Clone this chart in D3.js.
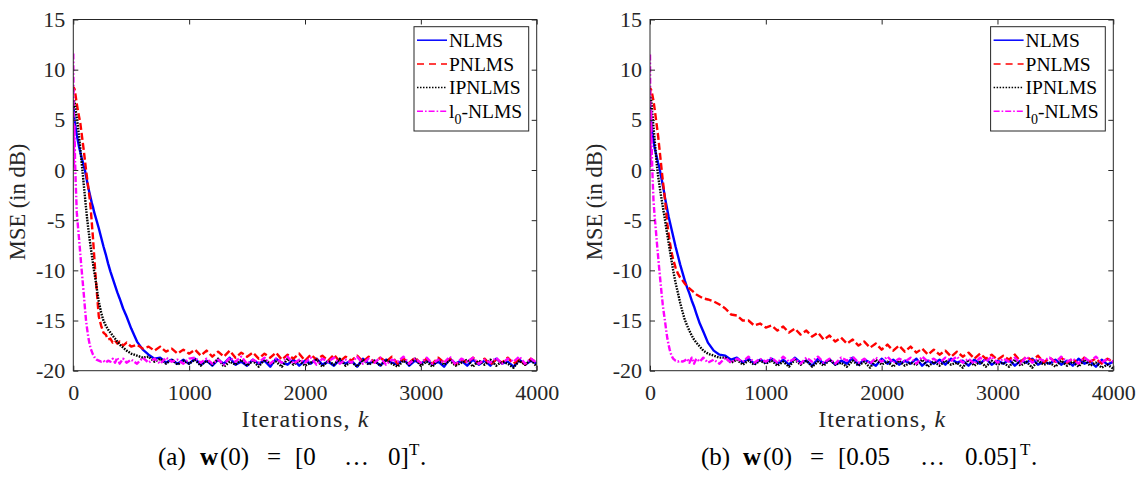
<!DOCTYPE html>
<html><head><meta charset="utf-8">
<script src="https://cdn.jsdelivr.net/npm/d3@7"></script>
<style>
html,body{margin:0;padding:0;background:#fff;}
svg{display:block;}
</style></head><body>
<svg id="chart" width="1141" height="478"></svg>
<script>
// ---------------- data ----------------
const iters = [0,5,10,15,20,30,40,50,60,70,80,90,100,110,120,130,140,150,160,170,180,190,200,220,240,260,280,300,320,340,360,380,400,430,460,500,550,600,650,700,750,800,850,900,950,1000,1050,1100,1150,1200,1250,1300,1350,1400,1450,1500,1550,1600,1650,1700,1750,1800,1850,1900,1950,2000,2050,2100,2150,2200,2250,2300,2350,2400,2450,2500,2550,2600,2650,2700,2750,2800,2850,2900,2950,3000,3050,3100,3150,3200,3250,3300,3350,3400,3450,3500,3550,3600,3650,3700,3750,3800,3850,3900,3950,4000];

const seriesNames = ["NLMS", "PNLMS", "IPNLMS", "l0-NLMS"];
const xTickValues = [0, 1000, 2000, 3000, 4000];
const yTickValues = [-20, -15, -10, -5, 0, 5, 10, 15];
const xLabel = "Iterations, ";
const xLabelVar = "k";
const yLabel = "MSE (in dB)";
const captionA = ["(a)", "w", "(0)", "=", "[0", "…", "0]", "T", "."];
const captionB = ["(b)", "w", "(0)", "=", "[0.05", "…", "0.05]", "T", "."];

// panel (a): w(0) = [0 ... 0]^T
const aNLMS = [6.5,5.8,5.0,4.6,4.2,3.5,2.9,2.3,1.8,1.3,0.9,0.4,0.0,-0.6,-1.2,-1.8,-2.3,-2.8,-3.3,-3.7,-4.2,-4.6,-5.0,-5.8,-6.7,-7.6,-8.4,-9.3,-10.1,-10.8,-11.5,-12.2,-12.8,-13.8,-14.6,-15.8,-17.1,-17.9,-18.4,-18.8,-18.7,-19.2,-18.9,-19.3,-18.9,-19.3,
 -18.8,-19.4,-19.0,-19.5,-18.9,-19.3,-18.7,-19.4,-19.1,-19.5,-18.9,-19.3,-19.0,-19.6,-18.8,-19.2,-19.4,-18.9,-19.5,-19.0,-19.3,-18.8,-19.4,-19.1,-19.5,-18.9,-19.3,-19.0,-19.6,-18.8,-19.3,-19.0,-19.5,-18.9,-19.2,-19.4,-18.8,-19.5,-19.0,-19.3,-18.9,-19.4,-19.1,-19.6,-18.8,-19.3,-19.0,-19.5,-18.9,-19.4,-19.0,-19.5,-18.8,-19.3,-19.1,-19.6,-18.9,-19.4,-19.0,-19.3];
const aPNLMS = [7.8,8.2,8.1,7.8,7.4,6.6,5.9,5.3,4.7,3.8,2.9,2.0,1.0,0.0,-0.9,-1.8,-2.7,-3.8,-5.3,-6.8,-8.5,-10.2,-11.7,-14.6,-15.5,-16.2,-16.4,-16.9,-16.8,-17.2,-17.0,-17.3,-17.1,-17.5,-17.2,-17.6,-17.4,-17.8,-17.6,-18.0,-17.6,-18.1,-17.8,-18.3,-17.9,-18.3,
 -17.9,-18.5,-18.0,-18.6,-18.1,-18.6,-18.0,-18.7,-18.2,-18.6,-18.2,-18.8,-18.3,-18.7,-18.2,-18.9,-18.4,-18.8,-18.3,-19.0,-18.4,-18.9,-18.5,-19.0,-18.4,-19.1,-18.6,-19.0,-18.5,-19.1,-18.6,-19.2,-18.7,-19.1,-18.6,-19.3,-18.8,-19.2,-18.7,-19.3,-18.8,-19.3,-18.7,-19.2,-18.8,-19.4,-18.9,-19.2,-18.7,-19.3,-18.8,-19.4,-18.9,-19.2,-18.7,-19.3,-18.9,-19.4,-18.8,-19.2];
const aIPNLMS = [6.2,7.0,6.8,6.5,6.0,5.2,4.3,3.3,2.2,1.0,-0.2,-1.4,-2.6,-3.8,-4.9,-5.9,-6.8,-7.7,-8.5,-9.3,-10.1,-10.8,-11.6,-13.1,-14.2,-15.0,-15.5,-15.9,-16.2,-16.5,-16.8,-17.1,-17.4,-17.7,-18.0,-18.3,-18.5,-18.7,-18.6,-19.1,-18.8,-19.3,-18.9,-19.4,-19.0,-19.3,
 -18.9,-19.5,-19.0,-19.4,-18.8,-19.6,-19.1,-19.4,-18.9,-19.5,-19.0,-19.6,-18.9,-19.3,-19.1,-19.6,-18.8,-19.4,-19.0,-19.5,-19.2,-18.9,-19.6,-19.0,-19.4,-18.8,-19.5,-19.1,-19.6,-18.9,-19.4,-19.0,-19.5,-18.9,-19.3,-19.6,-19.0,-19.4,-18.8,-19.5,-19.1,-19.6,-18.9,-19.4,-19.0,-19.5,-19.2,-18.9,-19.6,-19.0,-19.4,-18.9,-19.5,-19.1,-19.3,-19.7,-19.0,-19.4,-18.9,-19.6];
const aL0 = [11.6,0.2,4.5,1.0,-1.0,-4.2,-5.6,-6.9,-8.3,-9.7,-11.0,-12.3,-13.7,-15.0,-15.9,-16.7,-17.3,-17.8,-18.1,-18.4,-18.6,-18.8,-18.9,-19.0,-19.1,-19.0,-19.2,-19.0,-19.1,-18.8,-19.2,-18.7,-19.3,-18.8,-19.2,-18.9,-19.3,-18.7,-19.2,-18.8,-19.3,-18.7,-19.1,-18.9,-19.3,-18.8,
 -18.7,-19.2,-18.8,-19.3,-18.9,-19.4,-18.7,-19.1,-18.6,-19.3,-18.9,-19.2,-18.7,-19.3,-18.8,-19.2,-18.6,-19.3,-18.9,-19.2,-18.7,-19.4,-18.8,-19.1,-18.7,-19.3,-18.9,-19.2,-18.6,-19.3,-18.8,-19.2,-18.7,-19.4,-18.9,-19.1,-18.6,-19.3,-18.8,-19.2,-18.7,-19.3,-18.9,-19.2,-18.6,-19.4,-18.8,-19.1,-18.7,-19.3,-18.9,-19.2,-18.7,-19.3,-18.8,-19.1,-18.6,-19.3,-18.8,-19.2];

// panel (b): w(0) = [0.05 ... 0.05]^T
const bNLMS = [6.5,5.5,4.8,4.2,3.7,2.9,2.2,1.7,1.2,0.7,0.3,-0.3,-0.9,-1.5,-2.1,-2.8,-3.4,-4.0,-4.6,-5.1,-5.6,-6.1,-6.6,-7.6,-8.5,-9.4,-10.2,-11.0,-11.7,-12.3,-13.0,-13.6,-14.3,-15.3,-16.1,-17.2,-18.0,-18.4,-18.5,-18.9,-18.7,-19.2,-18.8,-19.3,-18.9,-19.2,
 -18.8,-19.3,-18.9,-19.4,-18.7,-19.2,-19.0,-19.5,-18.8,-19.3,-18.9,-19.4,-19.0,-19.3,-18.7,-19.4,-18.9,-19.2,-19.5,-18.8,-19.3,-18.9,-19.4,-19.0,-19.3,-18.8,-19.5,-19.0,-19.3,-18.9,-19.4,-18.8,-19.2,-19.0,-19.5,-18.9,-19.3,-18.8,-19.4,-19.0,-19.3,-18.9,-19.5,-19.0,-19.2,-18.8,-19.4,-19.1,-19.3,-18.9,-19.4,-19.0,-19.5,-18.8,-19.3,-19.1,-19.6,-18.9,-19.4,-19.1];
const bPNLMS = [7.6,8.1,8.0,7.8,7.5,6.9,6.1,5.2,4.3,3.4,2.3,1.2,0.1,-1.0,-2.0,-3.0,-4.2,-5.4,-6.3,-7.1,-7.8,-8.4,-8.9,-9.7,-10.3,-10.7,-11.0,-11.3,-11.6,-11.8,-12.0,-12.2,-12.4,-12.6,-12.8,-12.9,-13.1,-13.4,-13.8,-14.4,-14.5,-15.0,-15.0,-15.5,-15.3,-15.7,
 -15.5,-16.0,-15.6,-16.2,-15.8,-16.4,-16.0,-16.6,-16.2,-16.9,-16.5,-17.1,-16.7,-17.3,-16.9,-17.5,-17.1,-17.7,-17.3,-17.9,-17.4,-18.0,-17.5,-18.1,-17.6,-18.2,-17.8,-18.4,-17.9,-18.4,-18.0,-18.6,-18.1,-18.6,-18.2,-18.8,-18.3,-18.8,-18.4,-18.9,-18.5,-18.9,-18.4,-19.1,-18.6,-19.0,-18.5,-19.2,-18.7,-19.1,-18.7,-19.2,-18.8,-19.3,-18.7,-19.1,-18.8,-19.3,-18.8,-19.2];
const bIPNLMS = [6.0,7.2,6.9,6.3,5.6,4.3,3.0,1.7,0.4,-0.6,-1.4,-2.2,-2.9,-3.6,-4.3,-5.0,-5.8,-6.5,-7.2,-7.9,-8.6,-9.3,-10.0,-11.2,-12.2,-13.2,-14.1,-14.9,-15.5,-16.0,-16.5,-16.9,-17.2,-17.6,-18.0,-18.3,-18.5,-18.7,-18.7,-19.2,-18.9,-19.4,-19.0,-19.4,-19.0,-19.3,
 -19.0,-19.5,-19.1,-19.6,-18.9,-19.4,-19.0,-19.6,-19.1,-19.5,-18.9,-19.4,-19.2,-19.6,-19.0,-19.5,-19.1,-19.7,-18.9,-19.4,-19.1,-19.6,-19.0,-19.5,-19.2,-19.4,-18.9,-19.6,-19.1,-19.5,-19.0,-19.4,-19.2,-19.7,-18.9,-19.5,-19.1,-19.6,-19.0,-19.4,-19.2,-19.6,-18.9,-19.5,-19.1,-19.7,-19.0,-19.4,-19.2,-19.6,-19.0,-19.5,-19.1,-19.6,-18.9,-19.5,-19.2,-19.7,-19.4,-19.8];
const bL0 = [11.5,0.3,6.0,2.0,0.0,-3.0,-4.6,-5.9,-7.3,-8.6,-9.9,-11.1,-12.3,-13.4,-14.3,-15.1,-16.0,-16.8,-17.4,-17.9,-18.3,-18.6,-18.8,-19.0,-19.1,-19.0,-19.1,-19.0,-18.8,-19.2,-18.7,-19.3,-18.8,-19.1,-18.7,-19.2,-18.9,-19.3,-18.7,-19.2,-18.8,-19.1,-18.6,-19.2,-18.8,-19.1,
 -18.7,-19.2,-18.6,-19.1,-18.8,-19.3,-18.7,-19.1,-18.6,-19.2,-18.8,-19.3,-18.7,-19.0,-18.6,-19.2,-18.8,-19.3,-18.7,-19.1,-18.6,-19.2,-18.8,-19.1,-18.7,-19.3,-18.6,-19.1,-18.8,-19.2,-18.7,-19.0,-18.6,-19.2,-18.8,-19.3,-18.7,-19.1,-18.6,-19.2,-18.8,-19.1,-18.7,-19.3,-18.6,-19.2,-18.8,-19.0,-18.7,-19.2,-18.6,-19.1,-18.8,-19.3,-18.7,-19.1,-18.6,-19.2,-18.8,-19.1];

// ---------------- styles / layout ----------------
const FONT = "Liberation Serif";
const lineStyles = [
  {color:"#0000ff", dash:null,          legendDash:null},
  {color:"#ff0000", dash:"7,3",         legendDash:"7,5"},
  {color:"#000000", dash:"1.6,1.2",     legendDash:"1.5,1.5"},
  {color:"#ff00ff", dash:"6,2,1.6,2",   legendDash:"6,2,1.6,2"}
];
const axisColor = "#262626";
const plotTop = 19.5, plotBottom = 370.7;

// caption token offsets (px from caption start)
const capLayoutA = [3, 45, 65, 112, 140, 189, 233, 254, 265];
const capLayoutB = [3, 45, 65, 112, 140, 222, 267, 322, 333];

const panels = [
  {series:[aNLMS,aPNLMS,aIPNLMS,aL0], left:73.3, right:536.7, ylabX:25,
   caption:captionA, capLayout:capLayoutA, capX:155},
  {series:[bNLMS,bPNLMS,bIPNLMS,bL0], left:650, right:1113.3, ylabX:602,
   caption:captionB, capLayout:capLayoutB, capX:698}
];

const svg = d3.select("#chart");

panels.forEach((p, pi) => {
  const x = d3.scaleLinear().domain([0, 4000]).range([p.left, p.right]);
  const y = d3.scaleLinear().domain([-20, 15]).range([plotBottom, plotTop]);
  const g = svg.append("g");

  const clipId = "clip" + pi;
  svg.append("clipPath").attr("id", clipId).append("rect")
    .attr("x", p.left).attr("y", plotTop)
    .attr("width", p.right - p.left).attr("height", plotBottom - plotTop);

  // lines
  const line = d3.line().x((d, i) => x(iters[i])).y(d => y(d));
  const lg = g.append("g").attr("clip-path", `url(#${clipId})`);
  p.series.forEach((s, si) => {
    const st = lineStyles[si];
    lg.append("path").datum(s)
      .attr("d", line)
      .attr("fill", "none")
      .attr("stroke", st.color)
      .attr("stroke-width", 2.4)
      .attr("stroke-linejoin", "round")
      .attr("stroke-dasharray", st.dash);
  });

  // axes
  const fmt = d => String(d);
  const styleAxis = sel => {
    sel.attr("font-family", FONT).attr("font-size", 22);
    sel.select(".domain").remove();
    sel.selectAll(".tick line").attr("stroke", axisColor);
    sel.selectAll(".tick text").attr("fill", axisColor)
      .style("font-family", FONT)
      .style("font-size", "22px");
  };
  g.append("g").attr("transform", `translate(0,${plotBottom})`)
    .call(d3.axisBottom(x).tickValues(xTickValues).tickFormat(fmt).tickSizeInner(-5).tickSizeOuter(0).tickPadding(14))
    .call(styleAxis);
  g.append("g").attr("transform", `translate(0,${plotTop})`)
    .call(d3.axisTop(x).tickValues(xTickValues).tickFormat("").tickSizeInner(-5).tickSizeOuter(0))
    .call(styleAxis);
  g.append("g").attr("transform", `translate(${p.left},0)`)
    .call(d3.axisLeft(y).tickValues(yTickValues).tickFormat(fmt).tickSizeInner(-5).tickSizeOuter(0).tickPadding(8))
    .call(styleAxis);
  g.append("g").attr("transform", `translate(${p.right},0)`)
    .call(d3.axisRight(y).tickValues(yTickValues).tickFormat("").tickSizeInner(-5).tickSizeOuter(0))
    .call(styleAxis);

  // box
  g.append("rect").attr("x", p.left).attr("y", plotTop)
    .attr("width", p.right - p.left).attr("height", plotBottom - plotTop)
    .attr("fill", "none").attr("stroke", axisColor).attr("stroke-width", 1);

  // y label
  g.append("text")
    .attr("transform", `translate(${p.ylabX},202) rotate(-90)`)
    .attr("text-anchor", "middle")
    .attr("fill", axisColor)
    .style("font-family", FONT)
    .style("font-size", "22.5px")
    .text(yLabel);

  // x label
  const xl = g.append("text")
    .attr("x", (p.left + p.right) / 2).attr("y", 427)
    .attr("text-anchor", "middle")
    .attr("fill", axisColor)
    .style("font-family", FONT)
    .style("font-size", "24px")
    .attr("textLength", 127).attr("lengthAdjust", "spacing");
  xl.append("tspan").text(xLabel);
  xl.append("tspan").style("font-style", "italic").text(xLabelVar);

  // legend
  const lgW = 114.7, lgH = 104.3;
  const lgX = p.right - 8 - lgW, lgY = 26.7;
  const leg = g.append("g");
  leg.append("rect").attr("x", lgX).attr("y", lgY).attr("width", lgW).attr("height", lgH)
    .attr("fill", "#fff").attr("stroke", axisColor).attr("stroke-width", 1);
  seriesNames.forEach((name, si) => {
    const cy = lgY + 13.5 + si * 23.7;
    const st = lineStyles[si];
    leg.append("line").attr("x1", lgX + 3).attr("x2", lgX + 33)
      .attr("y1", cy).attr("y2", cy)
      .attr("stroke", st.color).attr("stroke-width", 1.5)
      .attr("stroke-dasharray", st.legendDash);
    const t = leg.append("text").attr("x", lgX + 35).attr("y", cy + 6.8)
      .style("font-family", FONT)
      .style("font-size", "19.5px").attr("fill", "#000");
    if (name.startsWith("l0")) {
      t.append("tspan").text("l");
      t.append("tspan").attr("dy", 6).style("font-size", "14px").text("0");
      t.append("tspan").attr("dy", -6).text(name.slice(2));
    } else {
      t.text(name);
    }
  });

  // caption
  const capY = 465;
  p.caption.forEach((tok, ti) => {
    const isSup = ti === 7, isBold = ti === 1;
    g.append("text")
      .attr("x", p.capX + p.capLayout[ti])
      .attr("y", isSup ? capY - 10 : capY)
      .attr("fill", "#000")
      .style("font-family", FONT)
      .style("font-size", isSup ? "17px" : "25px")
      .style("font-weight", isBold ? "bold" : null)
      .text(tok);
  });
});
</script>
</body></html>
